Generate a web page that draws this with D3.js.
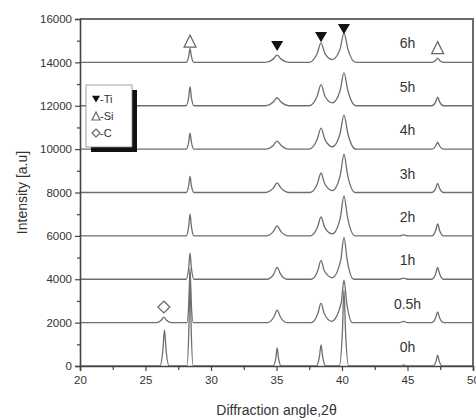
<!DOCTYPE html>
<html>
<head>
<meta charset="utf-8">
<script src="https://cdn.jsdelivr.net/npm/d3@7"></script>
<style>
  body { margin: 0; background: #fff; }
  text { font-family: "Liberation Sans", Arial, sans-serif; fill: #333; }
</style>
</head>
<body>
<div id="chart"></div>
<script>

// milling time of each pattern, and how far up each one is shifted
const labels = ['0h', '0.5h', '1h', '2h', '3h', '4h', '5h', '6h']
const offsets = [0, 2000, 4000, 6000, 8000, 10000, 12000, 14000]

// [2theta, intensity above own baseline]
const p0h = [[20,0],[26.09,0],[26.33,750],[26.45,1660],[26.57,750],[26.81,0],
    [28.16,0],[28.32,1900],[28.4,4300],[28.48,1900],[28.64,0],
    [34.75,0],[34.95,370],[35.05,830],[35.15,370],[35.35,0],
    [38.04,0],[38.28,440],[38.4,970],[38.52,440],[38.76,0],
    [39.79,0],[40.03,1575],[40.15,3500],[40.27,1575],[40.51,0],
    [44.5,0],[44.7,50],[44.9,0],
    [46.94,0],[47.18,225],[47.3,500],[47.42,225],[47.66,0],[50,0]]
const p05h = [[20,0],[25.8,0],[26.2,110],[26.4,250],[26.6,110],[27.0,0],
    [28.16,0],[28.32,1125],[28.4,2500],[28.48,1125],[28.64,0],
    [34.3,0],[34.8,260],[35.05,580],[35.3,260],[35.8,0],
    [37.65,0],[38.15,405],[38.4,900],[38.65,405],[39.2,60],[39.93,880],[40.15,1960],[40.37,880],[40.8,0],
    [44.4,0],[44.7,60],[45.0,0],
    [46.85,0],[47.15,220],[47.3,490],[47.45,220],[47.75,0],[50,0]]
const p1h = [[20,0],[28.1,0],[28.3,540],[28.4,1200],[28.5,540],[28.7,0],
    [34.3,0],[34.8,250],[35.05,550],[35.3,250],[35.8,0],
    [37.65,0],[38.15,390],[38.4,870],[38.65,390],[39.25,70],[39.9,870],[40.15,1930],[40.4,870],[40.9,0],
    [44.4,0],[44.7,50],[45.0,0],
    [46.85,0],[47.15,250],[47.3,550],[47.45,250],[47.75,0],[50,0]]
const p2h = [[20,0],[28.1,0],[28.3,450],[28.4,1000],[28.5,450],[28.7,0],
    [34.2,0],[34.77,210],[35.05,460],[35.33,210],[35.9,0],
    [37.56,0],[38.12,390],[38.4,870],[38.68,390],[39.27,90],[39.87,830],[40.15,1840],[40.43,830],[41.0,0],
    [44.4,0],[44.7,50],[45.0,0],
    [46.85,0],[47.15,250],[47.3,550],[47.45,250],[47.75,0],[50,0]]
const p3h = [[20,0],[28.1,0],[28.3,330],[28.4,740],[28.5,330],[28.7,0],
    [34.15,0],[34.75,200],[35.05,440],[35.35,200],[35.95,0],
    [37.56,0],[38.12,405],[38.4,900],[38.68,405],[39.27,90],[39.87,800],[40.15,1770],[40.43,800],[41.0,0],
    [46.85,0],[47.15,190],[47.3,420],[47.45,190],[47.75,0],[50,0]]
const p4h = [[20,0],[28.1,0],[28.3,330],[28.4,740],[28.5,330],[28.7,0],
    [34.15,0],[34.75,170],[35.05,370],[35.35,170],[35.95,0],
    [37.5,0],[38.1,440],[38.4,970],[38.7,440],[39.27,110],[39.85,710],[40.15,1570],[40.45,710],[41.05,0],
    [46.85,0],[47.15,145],[47.3,320],[47.45,145],[47.75,0],[50,0]]
const p5h = [[20,0],[28.1,0],[28.3,395],[28.4,880],[28.5,395],[28.7,0],
    [34.15,0],[34.75,170],[35.05,370],[35.35,170],[35.95,0],
    [37.5,0],[38.1,440],[38.4,970],[38.7,440],[39.27,130],[39.85,690],[40.15,1520],[40.45,690],[41.05,0],
    [46.85,0],[47.15,180],[47.3,400],[47.45,180],[47.75,0],[50,0]]
const p6h = [[20,0],[28.1,0],[28.3,290],[28.4,650],[28.5,290],[28.7,0],
    [34.15,0],[34.75,150],[35.05,330],[35.35,150],[35.95,0],
    [37.5,0],[38.1,405],[38.4,900],[38.7,405],[39.27,130],[39.85,610],[40.15,1350],[40.45,610],[41.05,0],
    [46.85,0],[47.15,90],[47.3,200],[47.45,90],[47.75,0],[50,0]]
const patterns = [p0h, p05h, p1h, p2h, p3h, p4h, p5h, p6h]

// phase markers: [phase, 2theta, intensity]
const markers = [['Si', 28.4, 14980], ['Ti', 35.05, 14770], ['Ti', 38.4, 15180],
    ['Ti', 40.15, 15550], ['Si', 47.3, 14680], ['C', 26.4, 2720]]

const xTicks = [20, 25, 30, 35, 40, 45, 50]
const yTicks = [0, 2000, 4000, 6000, 8000, 10000, 12000, 14000, 16000]

const W = 476, H = 420
const margin = {top: 19, right: 3, bottom: 54, left: 80}

var svg = d3.select('#chart').append('svg')
    .attr('width', W)
    .attr('height', H)

var x = d3.scaleLinear().domain([20, 50]).range([margin.left, W - margin.right])
var y = d3.scaleLinear().domain([0, 16000]).range([H - margin.bottom, margin.top])

// frame top and right
svg.append('path')
    .attr('d', `M${x(20)},${y(16000)}H${x(50)}V${y(0)}`)
    .attr('fill', 'none')
    .attr('stroke', '#6a6a6a')
    .attr('stroke-width', 2)

// patterns
var line = d3.line()
    .x(d => x(d[0]))
    .curve(d3.curveMonotoneX)

patterns.forEach((p, i) => {
    svg.append('path')
        .datum(p)
        .attr('d', line.y(d => y(d[1] + offsets[i])))
        .attr('fill', 'none')
        .attr('stroke', '#6e6e6e')
        .attr('stroke-width', 1.3)

    svg.append('text')
        .attr('x', x(45))
        .attr('y', y(offsets[i]) - 14)
        .attr('text-anchor', 'middle')
        .style('font-size', '14px')
        .text(labels[i])
})

// axes
svg.append('g')
    .attr('transform', `translate(0,${y(0)})`)
    .call(d3.axisBottom(x).tickValues(xTicks).tickSize(5).tickPadding(5).tickFormat(d3.format('d')))
svg.append('g')
    .attr('transform', `translate(0,${y(0)})`)
    .call(d3.axisBottom(x).tickValues(d3.range(22.5, 50, 5)).tickSize(4).tickFormat(''))
    .call(g => g.select('.domain').remove())

svg.append('g')
    .attr('transform', `translate(${x(20)},0)`)
    .call(d3.axisLeft(y).tickValues(yTicks).tickSize(5).tickPadding(3).tickFormat(d3.format('d')))
svg.append('g')
    .attr('transform', `translate(${x(20)},0)`)
    .call(d3.axisLeft(y).tickValues(d3.range(1000, 16000, 2000)).tickSize(3).tickFormat(''))
    .call(g => g.select('.domain').remove())

svg.selectAll('.domain').attr('stroke', '#444').attr('stroke-width', 1.6)
svg.selectAll('.tick line').attr('stroke', '#444').attr('stroke-width', 1.2)
svg.selectAll('.tick text').style('font-size', '11.5px').attr('fill', '#333')

// axis titles
svg.append('text')
    .attr('x', (x(20) + x(50)) / 2)
    .attr('y', 415)
    .attr('text-anchor', 'middle')
    .style('font-size', '14px')
    .text('Diffraction angle,2θ')

svg.append('text')
    .attr('transform', `translate(27,${(y(0) + y(16000)) / 2}) rotate(-90)`)
    .attr('text-anchor', 'middle')
    .style('font-size', '14px')
    .text('Intensity [a.u]')

// marker shapes
function drawMarker(g, kind, cx, cy, s) {
    if (kind === 'Ti') {
        g.append('path')
            .attr('d', `M${cx - s / 2},${cy - s * 0.4}L${cx + s / 2},${cy - s * 0.4}L${cx},${cy + s * 0.45}Z`)
            .attr('fill', '#111')
    } else if (kind === 'Si') {
        g.append('path')
            .attr('d', `M${cx},${cy - s / 2}L${cx + s / 2},${cy + s / 2}L${cx - s / 2},${cy + s / 2}Z`)
            .attr('fill', '#fff').attr('stroke', '#666').attr('stroke-width', 1.2)
    } else {
        g.append('path')
            .attr('d', `M${cx},${cy - s / 2}L${cx + s / 2},${cy}L${cx},${cy + s / 2}L${cx - s / 2},${cy}Z`)
            .attr('fill', '#fff').attr('stroke', '#666').attr('stroke-width', 1.2)
    }
}

var mk = svg.append('g')
markers.forEach(m => drawMarker(mk, m[0], x(m[1]), y(m[2]), 12))

// legend
var lg = svg.append('g')
lg.append('rect').attr('x', 91).attr('y', 90).attr('width', 46).attr('height', 62).attr('fill', '#111')
lg.append('rect').attr('x', 86).attr('y', 85).attr('width', 46).attr('height', 62)
    .attr('fill', '#fff').attr('stroke', '#888').attr('stroke-width', 0.8)
const legendItems = [['Ti', '-Ti'], ['Si', '-Si'], ['C', '-C']]
legendItems.forEach((d, i) => {
    drawMarker(lg, d[0], 96, 99 + i * 17, 8)
    lg.append('text')
        .attr('x', 100)
        .attr('y', 103 + i * 17)
        .style('font-size', '11px')
        .text(d[1])
})
</script>
</body>
</html>
